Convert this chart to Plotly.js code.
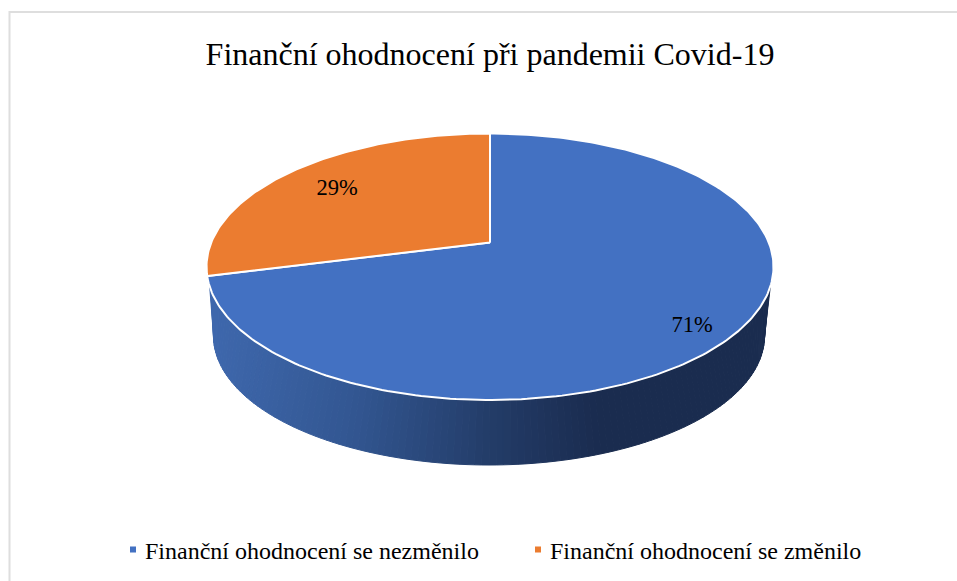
<!DOCTYPE html>
<html><head><meta charset="utf-8">
<script src="https://cdn.plot.ly/plotly-3.0.1.min.js"></script>
<style>html,body{margin:0;padding:0;background:#fff}#chart{width:957px;height:581px}</style>
</head><body><div id="chart"></div>
<script>
const chartTitle = 'Finanční ohodnocení při pandemii Covid-19';
const categories = ['Finanční ohodnocení se nezměnilo', 'Finanční ohodnocení se změnilo'];
const values = [71, 29];
const colors = ['#4371C2', '#EB7C30'];
const FONT = 'Liberation Serif, Times New Roman, serif';

// Projection of the tilted disc: unit circle -> screen
const cx = 490, apexY = 242.5, backY = 133.5, frontY = 400, extentX = 283.5;
const persp = (apexY*2 - backY - frontY) / (frontY - backY);
const b = (frontY*(1+persp) - apexY);
const c = extentX*Math.sqrt(1 - persp*persp);
function project(r, deg){
  const t = deg*Math.PI/180, u = r*Math.sin(t), v = -r*Math.cos(t), w = 1 + persp*v;
  return [cx + c*u/w, (apexY + b*v)/w];
}
function sector(a0, a1){
  const xs = [cx], ys = [apexY];
  const n = Math.ceil(Math.abs(a1-a0));
  for(let i=0;i<=n;i++){const p = project(1, a0 + (a1-a0)*i/n); xs.push(p[0]); ys.push(p[1]);}
  xs.push(cx); ys.push(apexY);
  return [xs, ys];
}
const total = values.reduce((s,v)=>s+v,0);
const traces = [];

// side wall strips
const topE = {cy:267, rx:283.5, ry:133}, botE = {cx:489, cy:336, rx:275.5, ry:129};
const wallStops = [[213,[62,103,172]],[350,[50,86,145]],[490,[35,60,104]],[600,[26,44,79]],[770,[26,44,79]]];
function wallColor(x){
  for(let i=1;i<wallStops.length;i++){
    if(x<=wallStops[i][0]){
      const [x0,c0]=wallStops[i-1],[x1,c1]=wallStops[i];
      const f=Math.max(0,(x-x0)/(x1-x0));
      return 'rgb('+c0.map((v,j)=>Math.round(v+(c1[j]-v)*f)).join(',')+')';
    }
  }
  return 'rgb(26,44,79)';
}
const wallN = 120, topStart = 8.6;
function wallPts(i){
  const f=i/wallN;
  const pt=(topStart+(180-2*topStart)*f)*Math.PI/180, pb=Math.PI*f;
  return [cx+topE.rx*Math.cos(pt), topE.cy+topE.ry*Math.sin(pt), botE.cx+botE.rx*Math.cos(pb), botE.cy+botE.ry*Math.sin(pb)];
}
for(let i=0;i<wallN;i++){
  const a=wallPts(i), d=wallPts(i+1);
  const col=wallColor((a[2]+d[2])/2);
  traces.push({type:'scatter',mode:'lines',x:[a[0],d[0],d[2],a[2],a[0]],y:[a[1],d[1],d[3],a[3],a[1]],
    fill:'toself',fillcolor:col,line:{color:col,width:1},showlegend:false,hoverinfo:'skip'});
}
// top slices
let acc = 0;
values.forEach((v,i)=>{
  const a0 = acc/total*360, a1 = (acc+v)/total*360; acc += v;
  const [xs,ys] = sector(a0,a1);
  traces.push({type:'scatter',mode:'lines',x:xs,y:ys,fill:'toself',fillcolor:colors[i],
    line:{color:'#fff',width:2},showlegend:false,hoverinfo:'skip'});
});
// legend entries
categories.forEach((name,i)=>{
  traces.push({type:'scatter',mode:'markers',x:[-100],y:[-100],name:name,
    marker:{symbol:'square',size:6,color:colors[i]},hoverinfo:'skip',showlegend:true});
});
// value labels
const labelAnchors = [[692,326],[337,189]];
traces.push({type:'scatter',mode:'text',x:labelAnchors.map(p=>p[0]),y:labelAnchors.map(p=>p[1]),
  text:values.map(v=>Math.round(v/total*100)+'%'),textposition:'middle center',
  textfont:{family:FONT,size:22.5,color:'#000'},showlegend:false,hoverinfo:'skip'});

const layout = {
  width:957,height:581,margin:{l:0,r:0,t:0,b:0,autoexpand:false},
  font:{family:FONT,size:24,color:'#000'},
  paper_bgcolor:'#fff',plot_bgcolor:'#fff',
  title:{text:chartTitle,font:{family:FONT,size:32,color:'#000'},x:490/957,xanchor:'center',y:1-54/581,yanchor:'middle'},
  xaxis:{range:[0,957],visible:false,fixedrange:true},
  yaxis:{range:[581,0],visible:false,fixedrange:true},
  showlegend:true,
  legend:{orientation:'h',x:105/957,xanchor:'left',y:1-550/581,yanchor:'middle',font:{family:FONT,size:24,color:'#000'},
    itemwidth:30,entrywidth:360,entrywidthmode:'pixels',bgcolor:'rgba(0,0,0,0)'},
  shapes:[{type:'path',xref:'x',yref:'y',path:'M 9.5 581 L 9.5 12 L 957 12',line:{color:'#DEDEDE',width:2},fillcolor:'rgba(0,0,0,0)',layer:'below'}]
};
Plotly.newPlot('chart',traces,layout,{displayModeBar:false,staticPlot:true}).then(()=>{
  document.querySelectorAll('#chart .legendpoints').forEach(el=>el.setAttribute('transform','translate(8,0)'));
});
</script></body></html>
